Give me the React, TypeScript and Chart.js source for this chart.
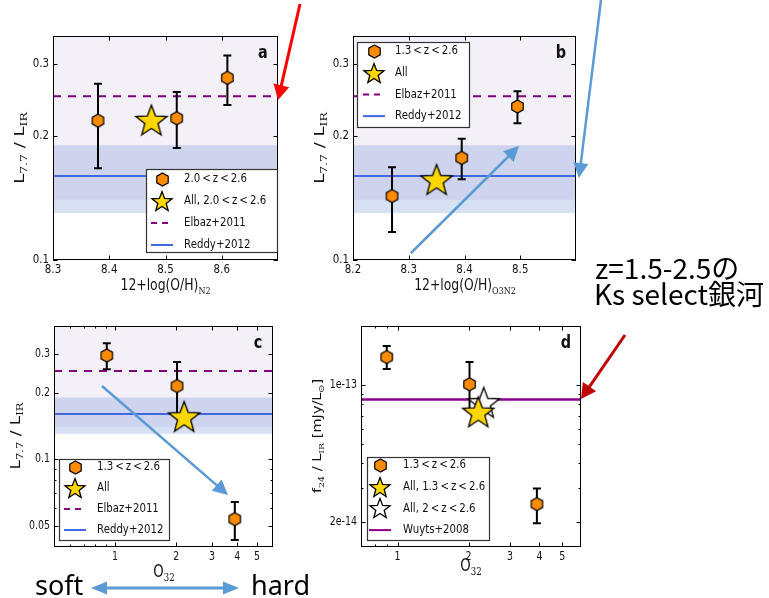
import React, { useEffect, useRef } from 'react';
import { Chart, registerables } from 'chart.js';
Chart.register(...registerables);

// ---------------- data ----------------
// Panel a : L7.7/LIR vs 12+log(O/H) N2
const aOH = [8.38, 8.52, 8.61];
const aRatio = [0.218, 0.221, 0.277];
const aRatioLo = [0.167, 0.187, 0.238];
const aRatioHi = [0.268, 0.256, 0.314];
const aAllOH = [8.475];
const aAllRatio = [0.219];
// Panel b : vs 12+log(O/H) O3N2
const bOH = [8.27, 8.395, 8.495];
const bRatio = [0.143, 0.177, 0.236];
const bRatioLo = [0.117, 0.157, 0.215];
const bRatioHi = [0.168, 0.197, 0.257];
const bAllOH = [8.35];
const bAllRatio = [0.157];
// Panel c : vs O32
const cO32 = [0.91, 2.02, 3.89];
const cRatio = [0.294, 0.214, 0.0535];
const cRatioLo = [0.255, 0.16, 0.043];
const cRatioHi = [0.334, 0.275, 0.064];
const cAllO32 = [2.19];
const cAllRatio = [0.156];
// Panel d : f24/LIR vs O32
const dO32 = [0.9, 2.02, 3.9];
const dF24 = [1.39e-13, 1.01e-13, 2.48e-14];
const dF24Lo = [1.21e-13, 0.75e-13, 1.98e-14];
const dF24Hi = [1.58e-13, 1.31e-13, 2.98e-14];
const dAllO32 = [2.2];
const dAllF24 = [7.33e-14];
const dAll2O32 = [2.32];
const dAll2F24 = [8.18e-14];

// reference relations
const elbaz = 0.25;
const reddy = 0.16;
const elbazBand = [0.14, 1.0];
const reddyBand = [0.13, 0.19];
const wuyts = 8.45e-14;

// axis ranges and ticks
const aXRange = [8.3, 8.7];
const bXRange = [8.2, 8.6];
const abYRange = [0.1, 0.35];
const cXRange = [0.5, 6];
const cYRange = [0.04, 0.4];
const dXRange = [0.7, 6];
const dYRange = [1.5e-14, 2e-13];
const aXTicks = [8.3, 8.4, 8.5, 8.6];
const aXTickLabels = ['8.3', '8.4', '8.5', '8.6'];
const bXTicks = [8.2, 8.3, 8.4, 8.5];
const bXTickLabels = ['8.2', '8.3', '8.4', '8.5'];
const abYTicks = [0.1, 0.2, 0.3];
const abYTickLabels = ['0.1', '0.2', '0.3'];
const cdXTicks = [1, 2, 3, 4, 5];
const cdXTickLabels = ['1', '2', '3', '4', '5'];
const cXMinor = [0.6, 0.7, 0.8, 0.9];
const dXMinor = [0.8, 0.9];
const cYTicks = [0.05, 0.1, 0.2, 0.3];
const cYTickLabels = ['0.05', '0.1', '0.2', '0.3'];
const cYMinor = [0.06, 0.07, 0.08, 0.09, 0.4];
const dYTicks = [2e-14, 1e-13];
const dYTickLabels = ['2e-14', '1e-13'];
const dYMinor = [3e-14, 4e-14, 5e-14, 6e-14, 7e-14, 8e-14, 9e-14];

// legend texts
const T = '\u2009';
const aLegend = [`2.0${T}<${T}z${T}<${T}2.6`, `All, 2.0${T}<${T}z${T}<${T}2.6`, 'Elbaz+2011', 'Reddy+2012'];
const bcLegend = [`1.3${T}<${T}z${T}<${T}2.6`, 'All', 'Elbaz+2011', 'Reddy+2012'];
const dLegend = [`1.3${T}<${T}z${T}<${T}2.6`, `All, 1.3${T}<${T}z${T}<${T}2.6`, `All, 2${T}<${T}z${T}<${T}2.6`, 'Wuyts+2008'];

// ---------------- styles ----------------
const ORANGE = '#ff8c00';
const GOLD = '#ffd700';
const PURPLE = '#800080';
const ROYAL = '#4169e1';
const WUYTS = '#8b008b';
const ELBAZ_BAND = 'rgba(120,60,150,0.08)';
const REDDY_BAND = 'rgba(100,130,210,0.25)';
const SQ = 0.82;

function makeHex(R: number, fill: string) {
  const lw = 1.2;
  const s = Math.ceil(2 * R + 2 * lw) + 1;
  const c = document.createElement('canvas');
  c.width = s; c.height = s;
  const g = c.getContext('2d')!;
  g.translate(s / 2, s / 2);
  g.beginPath();
  for (let i = 0; i < 6; i++) {
    const a = ((-90 + 60 * i) * Math.PI) / 180;
    g.lineTo(R * Math.cos(a), R * Math.sin(a));
  }
  g.closePath();
  g.fillStyle = fill; g.fill();
  g.lineWidth = lw; g.strokeStyle = '#000'; g.stroke();
  return c;
}

function makeStar(R: number, fill: string) {
  const lw = 1.3;
  const s = Math.ceil(2 * R + 2 * lw) + 2;
  const c = document.createElement('canvas');
  c.width = s; c.height = s;
  const g = c.getContext('2d')!;
  g.translate(s / 2, s / 2 + R * 0.1);
  g.beginPath();
  for (let i = 0; i < 10; i++) {
    const a = ((-90 + 36 * i) * Math.PI) / 180;
    const r = i % 2 === 0 ? R : R * 0.42;
    g.lineTo(r * Math.cos(a), r * Math.sin(a));
  }
  g.closePath();
  g.fillStyle = fill; g.fill();
  g.lineWidth = lw; g.strokeStyle = '#000'; g.lineJoin = 'miter'; g.stroke();
  return c;
}

function sText(ctx: CanvasRenderingContext2D, s: string, x: number, y: number, font: string, align: CanvasTextAlign, base: CanvasTextBaseline, sx: number) {
  ctx.save();
  ctx.font = font;
  ctx.textAlign = align;
  ctx.textBaseline = base;
  ctx.fillStyle = '#111';
  ctx.translate(x, y);
  ctx.scale(sx, 1);
  ctx.fillText(s, 0, 0);
  ctx.restore();
}

const pts = (xs: number[], ys: number[]) => xs.map((x, i) => ({ x, y: ys[i] }));

const specs: any[] = [
  {
    letter: 'a', left: 0, top: 0, w: 300, h: 300, area: { l: 53, r: 278, t: 36, b: 260 },
    xType: 'linear', xRange: aXRange, yRange: abYRange,
    xTicks: aXTicks, xTickLabels: aXTickLabels, xMinor: [], yTicks: abYTicks, yTickLabels: abYTickLabels, yMinor: [],
    tickFont: 12.5, xLabPad: 3,
    px: aOH, py: aRatio, pyLo: aRatioLo, pyHi: aRatioHi,
    stars: [{ x: aAllOH, y: aAllRatio, fill: GOLD, order: 1 }],
    hlines: [{ value: elbaz, color: PURPLE, width: 2, dash: [8, 7] }, { value: reddy, color: ROYAL, width: 2, dash: [] }],
    bands: [{ range: elbazBand, color: ELBAZ_BAND }, { range: reddyBand, color: REDDY_BAND }],
    legend: { x: 146, y: 169, w: 131, h: 83, mx: 162, tx: 184, y0: 179, dy: 22, labels: aLegend, kinds: ['hex', 'star', 'dash', 'line'], colors: ['', '', PURPLE, ROYAL] },
  },
  {
    letter: 'b', left: 300, top: 0, w: 300, h: 300, area: { l: 53, r: 276, t: 36, b: 260 },
    xType: 'linear', xRange: bXRange, yRange: abYRange,
    xTicks: bXTicks, xTickLabels: bXTickLabels, xMinor: [], yTicks: abYTicks, yTickLabels: abYTickLabels, yMinor: [],
    tickFont: 12.5, xLabPad: 3,
    px: bOH, py: bRatio, pyLo: bRatioLo, pyHi: bRatioHi,
    stars: [{ x: bAllOH, y: bAllRatio, fill: GOLD, order: 1 }],
    hlines: [{ value: elbaz, color: PURPLE, width: 2, dash: [8, 7] }, { value: reddy, color: ROYAL, width: 2, dash: [] }],
    bands: [{ range: elbazBand, color: ELBAZ_BAND }, { range: reddyBand, color: REDDY_BAND }],
    legend: { x: 57, y: 42, w: 112, h: 85, mx: 74, tx: 95, y0: 51, dy: 21.7, labels: bcLegend, kinds: ['hex', 'star', 'dash', 'line'], colors: ['', '', PURPLE, ROYAL] },
  },
  {
    letter: 'c', left: 0, top: 300, w: 300, h: 298, area: { l: 54, r: 273, t: 26, b: 247 },
    xType: 'logarithmic', xRange: cXRange, yRange: cYRange,
    xTicks: cdXTicks, xTickLabels: cdXTickLabels, xMinor: cXMinor, yTicks: cYTicks, yTickLabels: cYTickLabels, yMinor: cYMinor,
    tickFont: 11.5, xLabPad: 4,
    px: cO32, py: cRatio, pyLo: cRatioLo, pyHi: cRatioHi,
    stars: [{ x: cAllO32, y: cAllRatio, fill: GOLD, order: 1 }],
    hlines: [{ value: elbaz, color: PURPLE, width: 2, dash: [8, 7] }, { value: reddy, color: ROYAL, width: 2, dash: [] }],
    bands: [{ range: elbazBand, color: ELBAZ_BAND }, { range: reddyBand, color: REDDY_BAND }],
    legend: { x: 59, y: 159, w: 110, h: 81, mx: 75, tx: 97, y0: 167, dy: 21, labels: bcLegend, kinds: ['hex', 'star', 'dash', 'line'], colors: ['', '', PURPLE, ROYAL] },
  },
  {
    letter: 'd', left: 300, top: 300, w: 300, h: 298, area: { l: 61, r: 281, t: 26, b: 247 },
    xType: 'logarithmic', xRange: dXRange, yRange: dYRange,
    xTicks: cdXTicks, xTickLabels: cdXTickLabels, xMinor: dXMinor, yTicks: dYTicks, yTickLabels: dYTickLabels, yMinor: dYMinor,
    tickFont: 11.5, xLabPad: 4,
    px: dO32, py: dF24, pyLo: dF24Lo, pyHi: dF24Hi,
    stars: [{ x: dAll2O32, y: dAll2F24, fill: '#ffffff', order: 2 }, { x: dAllO32, y: dAllF24, fill: GOLD, order: 1 }],
    hlines: [{ value: wuyts, color: WUYTS, width: 2.5, dash: [] }],
    bands: [],
    legend: { x: 67, y: 157, w: 122, h: 83, mx: 80, tx: 103, y0: 165, dy: 21.7, labels: dLegend, kinds: ['hex', 'star', 'wstar', 'line'], colors: ['', '', '', WUYTS] },
  },
];

function buildConfig(spec: any) {
  const hex = makeHex(6.6, ORANGE);
  const legHex = makeHex(6.6, ORANGE);
  const legStar = makeStar(10.5, GOLD);
  const legWStar = makeStar(10.5, '#ffffff');
  const datasets: any[] = [];
  spec.hlines.forEach((h: any) =>
    datasets.push({
      data: [{ x: spec.xRange[0], y: h.value }, { x: spec.xRange[1], y: h.value }],
      showLine: true, borderColor: h.color, borderWidth: h.width, borderDash: h.dash,
      pointRadius: 0, pointHoverRadius: 0, order: 10,
    })
  );
  const hexIndex = datasets.length;
  datasets.push({ data: pts(spec.px, spec.py), pointStyle: hex, pointRadius: 7, order: 5 });
  spec.stars.forEach((s: any) =>
    datasets.push({ data: pts(s.x, s.y), pointStyle: makeStar(16.5, s.fill), pointRadius: 16, order: s.order })
  );

  const A = spec.area;
  const decor = {
    id: 'decor',
    beforeDatasetsDraw(chart: any) {
      const { ctx, chartArea: ca, scales } = chart;
      ctx.save();
      ctx.beginPath();
      ctx.rect(ca.left, ca.top, ca.right - ca.left, ca.bottom - ca.top);
      ctx.clip();
      spec.bands.forEach((b: any) => {
        const y1 = scales.y.getPixelForValue(b.range[1]);
        const y0 = scales.y.getPixelForValue(b.range[0]);
        ctx.fillStyle = b.color;
        ctx.fillRect(ca.left, y1, ca.right - ca.left, y0 - y1);
      });
      ctx.restore();
    },
    beforeDatasetDraw(chart: any, args: any) {
      if (args.index !== hexIndex) return;
      const { ctx, scales } = chart;
      ctx.save();
      ctx.strokeStyle = '#000';
      ctx.lineWidth = 2;
      spec.px.forEach((x: number, i: number) => {
        const px = scales.x.getPixelForValue(x);
        const lo = scales.y.getPixelForValue(spec.pyLo[i]);
        const hi = scales.y.getPixelForValue(spec.pyHi[i]);
        ctx.beginPath();
        ctx.moveTo(px, lo); ctx.lineTo(px, hi);
        ctx.moveTo(px - 4, lo); ctx.lineTo(px + 4, lo);
        ctx.moveTo(px - 4, hi); ctx.lineTo(px + 4, hi);
        ctx.stroke();
      });
      ctx.restore();
    },
    afterDatasetsDraw(chart: any) {
      const { ctx, chartArea: ca, scales } = chart;
      ctx.save();
      ctx.strokeStyle = '#000';
      ctx.lineWidth = 1;
      const line = (x1: number, y1: number, x2: number, y2: number) => {
        ctx.beginPath(); ctx.moveTo(x1, y1); ctx.lineTo(x2, y2); ctx.stroke();
      };
      const xt = (arr: number[], len: number) => arr.forEach((v) => {
        const p = Math.round(scales.x.getPixelForValue(v)) + 0.5;
        line(p, ca.bottom, p, ca.bottom - len);
        line(p, ca.top, p, ca.top + len);
      });
      const yt = (arr: number[], len: number) => arr.forEach((v) => {
        const p = Math.round(scales.y.getPixelForValue(v)) + 0.5;
        line(ca.left, p, ca.left + len, p);
        line(ca.right, p, ca.right - len, p);
      });
      xt(spec.xTicks, 4.5); xt(spec.xMinor, 2.5);
      yt(spec.yTicks, 4.5); yt(spec.yMinor, 2.5);
      ctx.strokeRect(ca.left + 0.5, ca.top + 0.5, ca.right - ca.left - 1, ca.bottom - ca.top - 1);
      const f = `${spec.tickFont}px "DejaVu Sans"`;
      spec.xTicks.forEach((v: number, i: number) =>
        sText(ctx, spec.xTickLabels[i], scales.x.getPixelForValue(v), ca.bottom + spec.xLabPad, f, 'center', 'top', SQ));
      spec.yTicks.forEach((v: number, i: number) =>
        sText(ctx, spec.yTickLabels[i], ca.left - 4, scales.y.getPixelForValue(v), f, 'right', 'middle', SQ));
      ctx.restore();
    },
    afterDraw(chart: any) {
      const { ctx, chartArea: ca } = chart;
      const L = spec.legend;
      ctx.save();
      ctx.fillStyle = '#fff';
      ctx.fillRect(L.x, L.y, L.w, L.h);
      ctx.strokeStyle = '#333';
      ctx.lineWidth = 1.2;
      ctx.strokeRect(L.x + 0.5, L.y + 0.5, L.w, L.h);
      L.labels.forEach((lab: string, i: number) => {
        const y = L.y0 + i * L.dy;
        const kind = L.kinds[i];
        if (kind === 'hex' || kind === 'star' || kind === 'wstar') {
          const img = kind === 'hex' ? legHex : kind === 'star' ? legStar : legWStar;
          ctx.drawImage(img, Math.round(L.mx - img.width / 2), Math.round(y - img.height / 2));
        } else {
          ctx.strokeStyle = L.colors[i];
          ctx.lineWidth = 2;
          ctx.setLineDash(kind === 'dash' ? [6, 5] : []);
          ctx.beginPath();
          ctx.moveTo(L.mx - 11, y); ctx.lineTo(L.mx + 11, y);
          ctx.stroke();
          ctx.setLineDash([]);
        }
        sText(ctx, lab, L.tx, y, '12px "DejaVu Sans"', 'left', 'middle', 0.85);
      });
      sText(ctx, spec.letter, ca.right - 15, ca.top + 22, 'bold 17px "DejaVu Sans"', 'center', 'alphabetic', 0.85);
      ctx.restore();
    },
  };

  return {
    type: 'scatter',
    data: { datasets },
    options: {
      responsive: false,
      animation: false,
      devicePixelRatio: 1,
      events: [],
      layout: { padding: { left: 0, top: A.t, right: spec.w - A.r, bottom: 0 } },
      plugins: { legend: { display: false }, tooltip: { enabled: false } },
      scales: {
        x: {
          type: spec.xType, min: spec.xRange[0], max: spec.xRange[1], bounds: 'data',
          grid: { display: false }, border: { display: false }, ticks: { display: false },
          afterFit: (s: any) => { s.height = spec.h - A.b; },
        },
        y: {
          type: 'logarithmic', min: spec.yRange[0], max: spec.yRange[1], bounds: 'data',
          grid: { display: false }, border: { display: false }, ticks: { display: false },
          afterFit: (s: any) => { s.width = A.l; },
        },
      },
    },
    plugins: [decor],
  };
}

function Panel({ spec }: { spec: any }) {
  const ref = useRef<HTMLCanvasElement>(null);
  useEffect(() => {
    const chart = new Chart(ref.current as HTMLCanvasElement, buildConfig(spec) as any);
    return () => chart.destroy();
  }, []);
  return (
    <canvas ref={ref} width={spec.w} height={spec.h}
      style={{ position: 'absolute', left: spec.left, top: spec.top, width: spec.w, height: spec.h }} />
  );
}

function Arrow({ x1, y1, x2, y2, color, w, hl, hw, both }: any) {
  const dx = x2 - x1, dy = y2 - y1;
  const len = Math.hypot(dx, dy);
  const ux = dx / len, uy = dy / len;
  const nx = -uy, ny = ux;
  const head = (tx: number, ty: number, sx: number, sy: number) => {
    const bx = tx - sx * hl, by = ty - sy * hl;
    return `${tx},${ty} ${bx + nx * hw / 2},${by + ny * hw / 2} ${bx - nx * hw / 2},${by - ny * hw / 2}`;
  };
  const ex = x2 - ux * hl * 0.8, ey = y2 - uy * hl * 0.8;
  const sx = both ? x1 + ux * hl * 0.8 : x1, sy = both ? y1 + uy * hl * 0.8 : y1;
  return (
    <g>
      <line x1={sx} y1={sy} x2={ex} y2={ey} stroke={color} strokeWidth={w} />
      <polygon points={head(x2, y2, ux, uy)} fill={color} />
      {both ? <polygon points={head(x1, y1, -ux, -uy)} fill={color} /> : null}
    </g>
  );
}

const SUB: any = { fontFamily: 'DejaVu Serif' };

export default function App() {
  return (
    <div style={{ position: 'absolute', left: 0, top: 0, width: 769, height: 598, background: '#fff', overflow: 'hidden' }}>
      {specs.map((s) => <Panel key={s.letter} spec={s} />)}
      <svg width={769} height={598} style={{ position: 'absolute', left: 0, top: 0 }}>
        <g fill="#111" fontFamily="DejaVu Sans" style={{ whiteSpace: 'pre' }}>
          {/* x titles */}
          <text transform="translate(165.5,290) scale(0.8,1)" textAnchor="middle" fontSize={15.5}>
            12+log(O/H)<tspan {...SUB} fontSize={10} dy={4}>N2</tspan>
          </text>
          <text transform="translate(465,290) scale(0.8,1)" textAnchor="middle" fontSize={15.5}>
            12+log(O/H)<tspan {...SUB} fontSize={10} dy={4}>O3N2</tspan>
          </text>
          <text transform="translate(164,577) scale(0.78,1)" textAnchor="middle" fontSize={17}>
            O<tspan {...SUB} fontSize={11} dy={4}>32</tspan>
          </text>
          <text transform="translate(471,571) scale(0.78,1)" textAnchor="middle" fontSize={17}>
            O<tspan {...SUB} fontSize={11} dy={4}>32</tspan>
          </text>
          {/* y titles */}
          <text transform="translate(24,148) rotate(-90) scale(1,0.8)" textAnchor="middle" fontSize={18}>
            L<tspan {...SUB} fontSize={12.5} dy={4}>7.7</tspan><tspan dy={-4}> / L</tspan><tspan {...SUB} fontSize={12.5} dy={4}>IR</tspan>
          </text>
          <text transform="translate(324,148) rotate(-90) scale(1,0.8)" textAnchor="middle" fontSize={18}>
            L<tspan {...SUB} fontSize={12.5} dy={4}>7.7</tspan><tspan dy={-4}> / L</tspan><tspan {...SUB} fontSize={12.5} dy={4}>IR</tspan>
          </text>
          <text transform="translate(20,436) rotate(-90) scale(1,0.8)" textAnchor="middle" fontSize={17}>
            L<tspan {...SUB} fontSize={11.5} dy={4}>7.7</tspan><tspan dy={-4}> / L</tspan><tspan {...SUB} fontSize={11.5} dy={4}>IR</tspan>
          </text>
          <text transform="translate(321,436) rotate(-90) scale(1,0.8)" textAnchor="middle" fontSize={14.5}>
            f<tspan {...SUB} fontSize={9.5} dy={4}>24</tspan><tspan dy={-4}> / L</tspan><tspan {...SUB} fontSize={9.5} dy={4}>IR</tspan><tspan dy={-4}> [mJy/L</tspan><tspan fontSize={9.5} dy={4}>⊙</tspan><tspan dy={-4}>]</tspan>
          </text>
        </g>
        {/* annotations */}
        <Arrow x1={300} y1={4} x2={278} y2={100} color="#ff0000" w={3} hl={15} hw={16} />
        <Arrow x1={601} y1={0} x2={579} y2={178} color="#5b9bd5" w={2.5} hl={15} hw={15} />
        <Arrow x1={411} y1={253} x2={519} y2={146} color="#5b9bd5" w={2.5} hl={15} hw={15} />
        <Arrow x1={102} y1={386} x2={228} y2={495} color="#5b9bd5" w={2.5} hl={15} hw={15} />
        <Arrow x1={91} y1={588} x2={239} y2={588} color="#5b9bd5" w={3} hl={16} hw={13} both />
        <Arrow x1={625} y1={335} x2={581} y2={399} color="#c00000" w={3} hl={15} hw={16} />
        <g fill="#000">
          <text x={595} y={279} fontFamily='"Noto Sans CJK JP"' fontSize={28}>z=1.5-2.5の</text>
          <text x={594} y={305} fontFamily='"Noto Sans CJK JP"' fontSize={28}>Ks select銀河</text>
          <text x={35} y={595} fontFamily='"Noto Sans"' fontSize={27}>soft</text>
          <text x={251} y={595} fontFamily='"Noto Sans"' fontSize={27}>hard</text>
        </g>
      </svg>
    </div>
  );
}
